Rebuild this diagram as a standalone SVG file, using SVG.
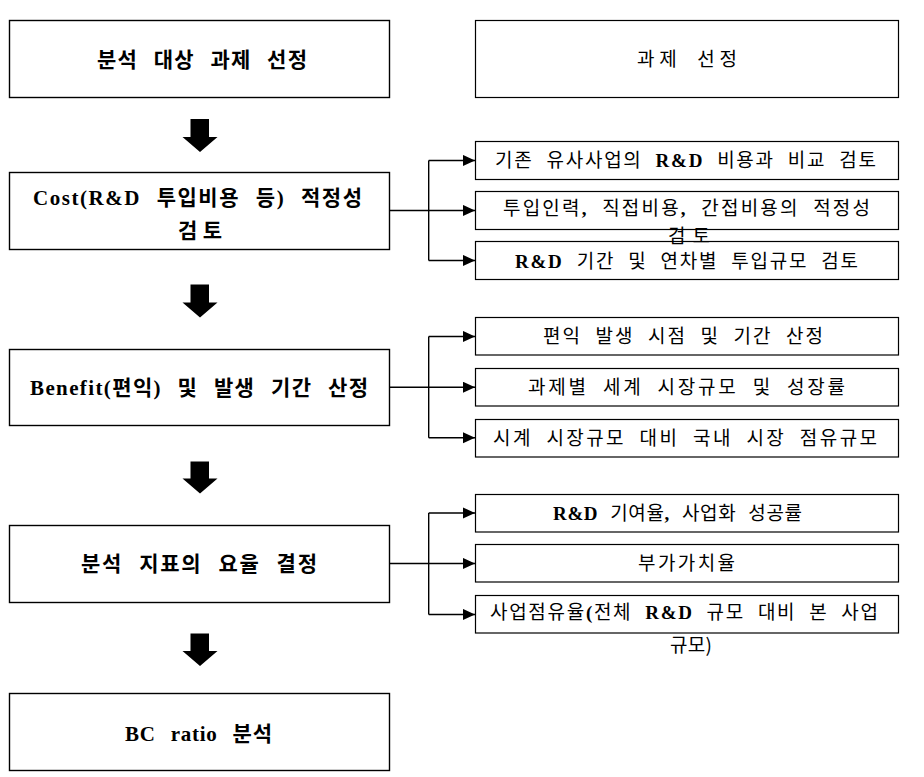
<svg xmlns="http://www.w3.org/2000/svg" width="924" height="777" viewBox="0 0 924 777">
<defs>
<style>
.lbox{fill:#fff;stroke:#000;stroke-width:1.4}
.rbox{fill:#fff;stroke:#000;stroke-width:1.2}
.lt{font-family:"Liberation Serif","Noto Sans CJK KR",serif;font-weight:bold;font-size:21px;word-spacing:9px;fill:#000}
.rt{font-family:"Noto Sans CJK KR","Liberation Sans",sans-serif;font-size:19px;word-spacing:7px;fill:#000}
.b{font-family:"Liberation Serif","Noto Sans CJK KR",serif;font-weight:bold}
.con{fill:none;stroke:#000;stroke-width:1.4}
.blk{fill:#000}
</style>
<marker id="ah" markerUnits="userSpaceOnUse" markerWidth="13" markerHeight="12" refX="12.5" refY="5.8" orient="auto">
<path d="M0,0 L12.5,5.8 L0,11.6 Z" fill="#000"/>
</marker>
</defs>
<rect width="924" height="777" fill="#fff"/>

<g id="step1">
<rect class="lbox" x="9.5" y="20.5" width="380" height="77"/>
<text class="lt" x="202" y="66.5" text-anchor="middle" textLength="210" lengthAdjust="spacing">분석 대상 과제 선정</text>
</g>
<g id="step2">
<rect class="lbox" x="9.5" y="172.5" width="380" height="77"/>
<text class="lt" x="197.5" y="204.5" text-anchor="middle" textLength="329" lengthAdjust="spacing">Cost(R&amp;D 투입비용 등) 적정성</text>
<text class="lt" x="200" y="238" text-anchor="middle" textLength="44" lengthAdjust="spacing">검토</text>
</g>
<g id="step3">
<rect class="lbox" x="9.5" y="349.5" width="380" height="76"/>
<text class="lt" x="199" y="394.5" text-anchor="middle" textLength="338" lengthAdjust="spacing">Benefit(편익) 및 발생 기간 산정</text>
</g>
<g id="step4">
<rect class="lbox" x="9.5" y="525.5" width="380" height="77"/>
<text class="lt" x="199" y="570.5" text-anchor="middle" textLength="236" lengthAdjust="spacing">분석 지표의 요율 결정</text>
</g>
<g id="step5">
<rect class="lbox" x="9.5" y="693.5" width="380" height="77"/>
<text class="lt" x="198.5" y="740.5" text-anchor="middle" textLength="147" lengthAdjust="spacing">BC ratio 분석</text>
</g>

<g id="select">
<rect class="rbox" x="475.5" y="20.5" width="423" height="77"/>
<text class="rt" x="687" y="65.5" text-anchor="middle" textLength="100" lengthAdjust="spacing">과제 선정</text>
</g>
<g id="cost1">
<rect class="rbox" x="475.5" y="141.5" width="423" height="38"/>
<text class="rt" x="685.5" y="167" text-anchor="middle" textLength="381" lengthAdjust="spacing">기존 유사사업의 <tspan class="b">R&amp;D</tspan> 비용과 비교 검토</text>
</g>
<g id="cost3">
<rect class="rbox" x="475.5" y="241.5" width="423" height="38"/>
<text class="rt" x="686.5" y="267.5" text-anchor="middle" textLength="343" lengthAdjust="spacing"><tspan class="b">R&amp;D</tspan> 기간 및 연차별 투입규모 검토</text>
</g>
<g id="cost2">
<rect class="rbox" x="475.5" y="191.5" width="423" height="38"/>
<text class="rt" x="686.5" y="214.5" text-anchor="middle" textLength="367" lengthAdjust="spacing">투입인력<tspan class="b">,</tspan> 직접비용<tspan class="b">,</tspan> 간접비용의 적정성</text>
<text class="rt" x="689" y="242.5" text-anchor="middle" textLength="42" lengthAdjust="spacing">검토</text>
</g>
<g id="ben1">
<rect class="rbox" x="475.5" y="317.5" width="423" height="37.5"/>
<text class="rt" x="683" y="343" text-anchor="middle" textLength="280" lengthAdjust="spacing">편익 발생 시점 및 기간 산정</text>
</g>
<g id="ben2">
<rect class="rbox" x="475.5" y="368.5" width="423" height="37.5"/>
<text class="rt" x="686.5" y="394" text-anchor="middle" textLength="317" lengthAdjust="spacing">과제별 세계 시장규모 및 성장률</text>
</g>
<g id="ben3">
<rect class="rbox" x="475.5" y="419.5" width="423" height="37.5"/>
<text class="rt" x="685" y="445" text-anchor="middle" textLength="384" lengthAdjust="spacing">시계 시장규모 대비 국내 시장 점유규모</text>
</g>
<g id="rate1">
<rect class="rbox" x="475.5" y="494.5" width="423" height="37.5"/>
<text class="rt" x="677.5" y="520" text-anchor="middle" textLength="249" lengthAdjust="spacing"><tspan class="b">R&amp;D</tspan> 기여율<tspan class="b">,</tspan> 사업화 성공률</text>
</g>
<g id="rate2">
<rect class="rbox" x="475.5" y="544.5" width="423" height="37.5"/>
<text class="rt" x="686.5" y="570" text-anchor="middle" textLength="97" lengthAdjust="spacing">부가가치율</text>
</g>
<g id="rate3">
<rect class="rbox" x="475.5" y="595.5" width="423" height="37.5"/>
<text class="rt" x="684" y="618.5" text-anchor="middle" textLength="388" lengthAdjust="spacing">사업점유율<tspan class="b">(</tspan>전체 <tspan class="b">R&amp;D</tspan> 규모 대비 본 사업</text>
<text class="rt" x="691" y="652" text-anchor="middle" textLength="42" lengthAdjust="spacing">규모)</text>
</g>

<g id="connectors">
<path class="blk" d="M190.5,119 H209 V137 H217.5 L200,152 L182.5,137 H190.5 Z"/>
<path class="blk" d="M190.5,284.5 H209 V302.5 H217.5 L200,317.5 L182.5,302.5 H190.5 Z"/>
<path class="blk" d="M190.5,461.5 H209 V478.5 H217.5 L200,493.5 L182.5,478.5 H190.5 Z"/>
<path class="blk" d="M190.5,633.5 H209 V651 H217.5 L200,666 L182.5,651 H190.5 Z"/>

<path class="con" d="M389.5,210.5 H428.7 M428.7,160.5 V260.5"/>
<path class="con" d="M428.7,160.5 H475" marker-end="url(#ah)"/>
<path class="con" d="M428.7,210.5 H475" marker-end="url(#ah)"/>
<path class="con" d="M428.7,260.5 H475" marker-end="url(#ah)"/>

<path class="con" d="M389.5,387.3 H428.7 M428.7,336.5 V437.8"/>
<path class="con" d="M428.7,336.5 H475" marker-end="url(#ah)"/>
<path class="con" d="M428.7,387.3 H475" marker-end="url(#ah)"/>
<path class="con" d="M428.7,437.8 H475" marker-end="url(#ah)"/>

<path class="con" d="M389.5,563.5 H428.7 M428.7,513 V614.5"/>
<path class="con" d="M428.7,513 H475" marker-end="url(#ah)"/>
<path class="con" d="M428.7,563.5 H475" marker-end="url(#ah)"/>
<path class="con" d="M428.7,614.5 H475" marker-end="url(#ah)"/>
</g>
</svg>
